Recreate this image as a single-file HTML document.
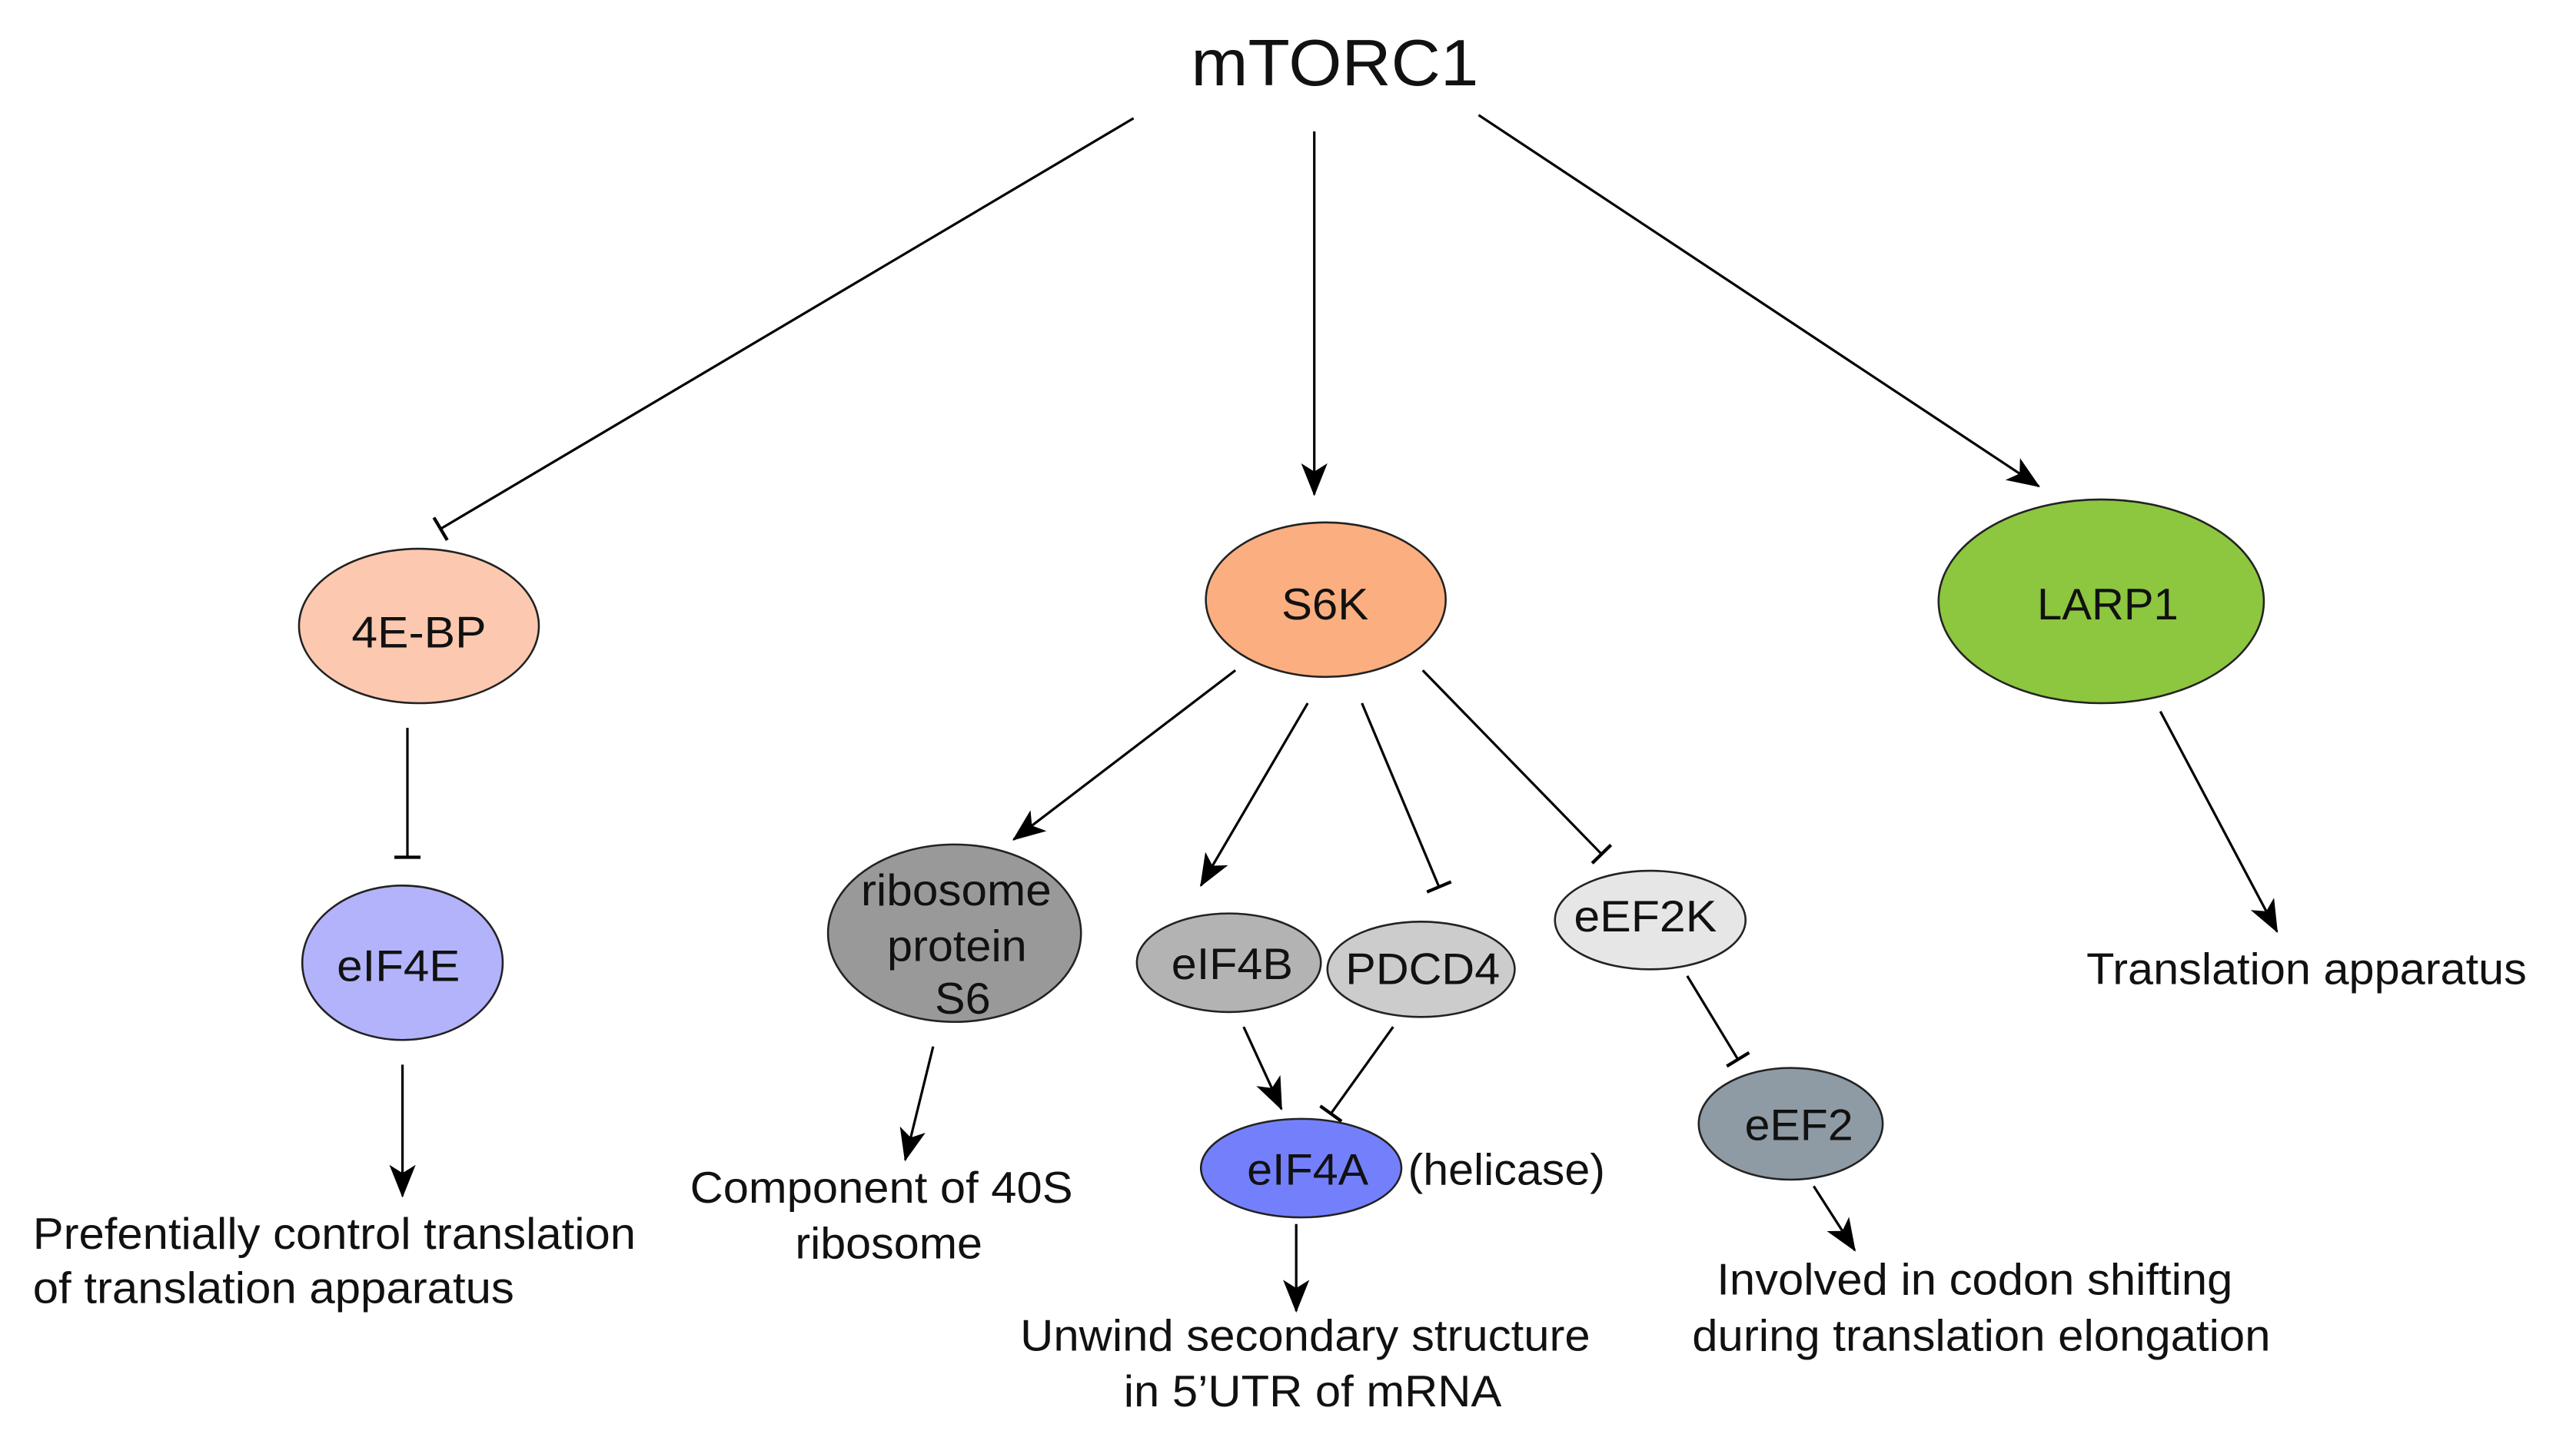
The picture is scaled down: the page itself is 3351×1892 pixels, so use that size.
<!DOCTYPE html>
<html><head><meta charset="utf-8"><style>
html,body{margin:0;padding:0;background:#fff;}
svg{display:block;}
text{font-family:"Liberation Sans",Arial,sans-serif;fill:#111;}
</style></head><body>
<svg width="3351" height="1892" viewBox="0 0 1568 885" preserveAspectRatio="none" xmlns="http://www.w3.org/2000/svg">
<defs>
<marker id="ar" viewBox="0 0 20 16" refX="19" refY="8" markerWidth="20" markerHeight="16" markerUnits="userSpaceOnUse" orient="auto">
<path d="M0,0 L20,8 L0,16 L5,8 Z" fill="#000"/>
</marker>
<marker id="tb" viewBox="0 0 4 16" refX="2" refY="8" markerWidth="4" markerHeight="16" markerUnits="userSpaceOnUse" orient="auto">
<rect x="0.8" y="0" width="2" height="16" fill="#000"/>
</marker>
</defs>
<g stroke="#000" stroke-width="1.5" fill="none">
<line x1="690" y1="72" x2="268" y2="322" marker-end="url(#tb)"/>
<line x1="800" y1="80" x2="800" y2="301" marker-end="url(#ar)"/>
<line x1="900" y1="70" x2="1241" y2="296" marker-end="url(#ar)"/>
<line x1="248" y1="443" x2="248" y2="522" marker-end="url(#tb)"/>
<line x1="245" y1="648" x2="245" y2="728" marker-end="url(#ar)"/>
<line x1="752" y1="408" x2="617" y2="511" marker-end="url(#ar)"/>
<line x1="568" y1="637" x2="551" y2="706" marker-end="url(#ar)"/>
<line x1="796" y1="428" x2="731" y2="539" marker-end="url(#ar)"/>
<line x1="829" y1="428" x2="876" y2="540" marker-end="url(#tb)"/>
<line x1="866" y1="408" x2="975" y2="520" marker-end="url(#tb)"/>
<line x1="757" y1="625" x2="780" y2="675" marker-end="url(#ar)"/>
<line x1="848" y1="625" x2="810" y2="678" marker-end="url(#tb)"/>
<line x1="789" y1="745" x2="789" y2="798" marker-end="url(#ar)"/>
<line x1="1027" y1="594" x2="1058" y2="645" marker-end="url(#tb)"/>
<line x1="1104" y1="722" x2="1129" y2="761" marker-end="url(#ar)"/>
<line x1="1315" y1="433" x2="1386" y2="567" marker-end="url(#ar)"/>
</g>
<g stroke="#222" stroke-width="1.2">
<ellipse cx="255" cy="381" rx="73" ry="47" fill="#fcc9b0"/>
<ellipse cx="807" cy="365" rx="73" ry="47" fill="#fbae7f"/>
<ellipse cx="1279" cy="366" rx="99" ry="62" fill="#8dc63f"/>
<ellipse cx="245" cy="586" rx="61" ry="47" fill="#b3b3fb"/>
<ellipse cx="581" cy="568" rx="77" ry="54" fill="#999999"/>
<ellipse cx="748" cy="586" rx="56" ry="30" fill="#b3b3b3"/>
<ellipse cx="865" cy="590" rx="57" ry="29" fill="#cccccc"/>
<ellipse cx="1004.5" cy="560" rx="58" ry="30" fill="#e6e6e6"/>
<ellipse cx="792" cy="711" rx="61" ry="30" fill="#7480fb"/>
<ellipse cx="1090" cy="684" rx="56" ry="34" fill="#8e9aa4"/>
</g>
<g font-size="27" lengthAdjust="spacingAndGlyphs">
<text x="725" y="52" font-size="40" textLength="175" lengthAdjust="spacingAndGlyphs">mTORC1</text>
<text x="214" y="394" textLength="82" lengthAdjust="spacingAndGlyphs">4E-BP</text>
<text x="780" y="377" textLength="53" lengthAdjust="spacingAndGlyphs">S6K</text>
<text x="1240" y="377" textLength="86" lengthAdjust="spacingAndGlyphs">LARP1</text>
<text x="205" y="597" textLength="75" lengthAdjust="spacingAndGlyphs">eIF4E</text>
<text x="524" y="551" textLength="116" lengthAdjust="spacingAndGlyphs">ribosome</text>
<text x="540" y="585" textLength="85" lengthAdjust="spacingAndGlyphs">protein</text>
<text x="569" y="617" textLength="34" lengthAdjust="spacingAndGlyphs">S6</text>
<text x="713" y="596" textLength="74" lengthAdjust="spacingAndGlyphs">eIF4B</text>
<text x="819" y="599" textLength="94" lengthAdjust="spacingAndGlyphs">PDCD4</text>
<text x="958" y="567" textLength="87" lengthAdjust="spacingAndGlyphs">eEF2K</text>
<text x="759" y="721" textLength="74" lengthAdjust="spacingAndGlyphs">eIF4A</text>
<text x="1062" y="694" textLength="66" lengthAdjust="spacingAndGlyphs">eEF2</text>
<text x="857" y="721" textLength="120" lengthAdjust="spacingAndGlyphs">(helicase)</text>
<text x="420" y="732" textLength="233" lengthAdjust="spacingAndGlyphs">Component of 40S</text>
<text x="484" y="766" textLength="114" lengthAdjust="spacingAndGlyphs">ribosome</text>
<text x="621" y="822" textLength="347" lengthAdjust="spacingAndGlyphs">Unwind secondary structure</text>
<text x="684" y="856" textLength="230" lengthAdjust="spacingAndGlyphs">in 5’UTR of mRNA</text>
<text x="1045" y="788" textLength="314" lengthAdjust="spacingAndGlyphs">Involved in codon shifting</text>
<text x="1030" y="822" textLength="352" lengthAdjust="spacingAndGlyphs">during translation elongation</text>
<text x="1270" y="599" textLength="268" lengthAdjust="spacingAndGlyphs">Translation apparatus</text>
<text x="20" y="760" textLength="367" lengthAdjust="spacingAndGlyphs">Prefentially control translation</text>
<text x="20" y="793" textLength="293" lengthAdjust="spacingAndGlyphs">of translation apparatus</text>
</g>
</svg>
</body></html>
